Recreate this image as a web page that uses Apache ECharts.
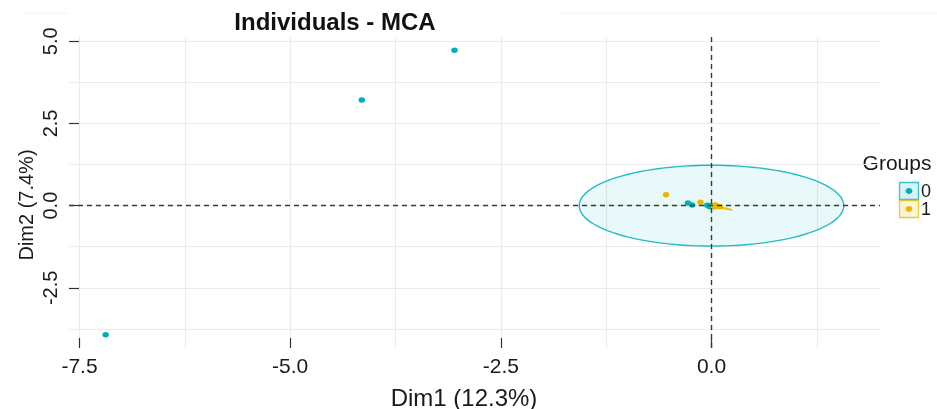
<!DOCTYPE html>
<html>
<head>
<meta charset="utf-8">
<script src="https://cdn.jsdelivr.net/npm/echarts@6/dist/echarts.min.js"></script>
<style>
  html, body { margin: 0; padding: 0; background: #ffffff; }
  #chart { width: 937px; height: 409px; }
</style>
</head>
<body>
<div id="chart"></div>
<script>
// Individuals on the first two MCA dimensions, coloured by group.
const groupNames = ['0', '1'];
const groupColors = ['#00AFBB', '#E7B800'];

const group0Dim1 = [-7.19, -4.15, -3.05, -0.28, -0.23, -0.05, -0.02, 0.00];
const group0Dim2 = [-3.93, 3.21, 4.73, 0.08, 0.02, 0.01, -0.03, 0.00];
const group1Dim1 = [-0.54, -0.13, 0.03, 0.05, 0.07, 0.10, 0.04];
const group1Dim2 = [0.33, 0.10, -0.04, 0.01, -0.02, -0.03, 0.02];

// Concentration ellipses: [centre dim1, centre dim2, semi-axis 1, semi-axis 2, angle (rad)]
const ellipse0 = [0.0, 0.0, 1.57, 1.23, 0.0];
const ellipse1 = [0.12, -0.06, 0.14, 0.012, -0.52];

const xTicks = [-7.5, -5.0, -2.5, 0.0];
const xMinorTicks = [-6.25, -3.75, -1.25, 1.25];
const yTicks = [-2.5, 0.0, 2.5, 5.0];
const yMinorTicks = [-3.75, -1.25, 1.25, 3.75];
const xLimits = [-7.625, 2.0];
const yLimits = [-4.33, 5.13];

const FONT = '"Liberation Sans", Arial, Helvetica, sans-serif';
const chart = echarts.init(document.getElementById('chart'), null, { renderer: 'canvas' });

function zip(a, b) { return a.map((v, i) => [v, b[i]]); }

function ellipseSeries(params, color) {
  return {
    type: 'custom',
    coordinateSystem: 'cartesian2d',
    silent: true,
    z: 1,
    data: [params],
    encode: { x: 0, y: 1 },
    renderItem: function (p, api) {
      const cx = api.value(0), cy = api.value(1);
      const a = api.value(2), b = api.value(3), ang = api.value(4);
      const pts = [];
      const n = 120;
      for (let k = 0; k < n; k++) {
        const t = 2 * Math.PI * k / n;
        const ex = a * Math.cos(t), ey = b * Math.sin(t);
        pts.push(api.coord([
          cx + ex * Math.cos(ang) - ey * Math.sin(ang),
          cy + ex * Math.sin(ang) + ey * Math.cos(ang)
        ]));
      }
      return {
        type: 'polygon',
        shape: { points: pts },
        style: { fill: echarts.color.modifyAlpha(color, 0.1), stroke: color, lineWidth: 1.4, opacity: 0.85 }
      };
    }
  };
}

const gridLine = { show: true, lineStyle: { color: '#ebebeb', width: 1.1 } };
const tickStyle = { color: '#333333', width: 1.2 };
const labelStyle = { color: '#1a1a1a', fontFamily: FONT };
const hiddenLine = { show: false, onZero: false };

const legendGraphics = [{
  type: 'text', x: 897, y: 164,
  style: { text: 'Groups', font: '21px ' + FONT, fill: '#1a1a1a', align: 'center', verticalAlign: 'middle' }
}];
groupNames.forEach((name, i) => {
  const top = 182 + 18 * i;
  legendGraphics.push(
    { type: 'rect', shape: { x: 899.5, y: top + 0.5, width: 19, height: 17 },
      style: { fill: echarts.color.modifyAlpha(groupColors[i], 0.15), stroke: echarts.color.modifyAlpha(groupColors[i], 0.75), lineWidth: 1.3 } },
    { type: 'ellipse', shape: { cx: 909, cy: top + 9, rx: 3.4, ry: 2.9 }, style: { fill: groupColors[i] } },
    { type: 'text', x: 921, y: top + 10,
      style: { text: name, font: '18px ' + FONT, fill: '#1a1a1a', align: 'left', verticalAlign: 'middle' } }
  );
});

const option = {
  backgroundColor: '#ffffff',
  animation: false,
  grid: { left: 69, right: 57, top: 37, bottom: 61, containLabel: false, outerBoundsMode: 'none' },
  xAxis: [{
    type: 'value', min: xLimits[0], max: xLimits[1],
    axisLine: hiddenLine,
    axisTick: { show: true, inside: true, length: 10, customValues: xTicks, lineStyle: tickStyle },
    axisLabel: Object.assign({ customValues: xTicks, margin: 9, fontSize: 21, formatter: v => v.toFixed(1) }, labelStyle),
    splitLine: gridLine
  }, {
    type: 'value', min: xLimits[0], max: xLimits[1], position: 'bottom',
    axisLine: hiddenLine,
    axisTick: { show: false, customValues: xMinorTicks },
    axisLabel: { show: false },
    splitLine: gridLine
  }],
  yAxis: [{
    type: 'value', min: yLimits[0], max: yLimits[1],
    axisLine: hiddenLine,
    axisTick: { show: true, inside: true, length: 10, customValues: yTicks, lineStyle: tickStyle },
    axisLabel: Object.assign({ customValues: yTicks, margin: 8, fontSize: 20, rotate: 90, formatter: v => v.toFixed(1) }, labelStyle),
    splitLine: gridLine
  }, {
    type: 'value', min: yLimits[0], max: yLimits[1], position: 'left',
    axisLine: hiddenLine,
    axisTick: { show: false, customValues: yMinorTicks },
    axisLabel: { show: false },
    splitLine: gridLine
  }],
  series: [
    ellipseSeries(ellipse0, groupColors[0]),
    ellipseSeries(ellipse1, groupColors[1]),
    {
      name: groupNames[0], type: 'scatter', z: 3,
      data: zip(group0Dim1, group0Dim2),
      symbol: 'circle', symbolSize: [6.5, 5.5],
      itemStyle: { color: groupColors[0], opacity: 1 },
      markLine: {
        silent: true, symbol: 'none', animation: false,
        label: { show: false },
        lineStyle: { color: '#3a3a3a', width: 1.4, type: [5, 4] },
        data: [{ xAxis: 0 }, { yAxis: 0 }]
      }
    },
    {
      name: groupNames[1], type: 'scatter', z: 4,
      data: zip(group1Dim1, group1Dim2),
      symbol: 'circle', symbolSize: [6.5, 5.5],
      itemStyle: { color: groupColors[1], opacity: 1 }
    }
  ],
  graphic: [
    { type: 'line', shape: { x1: 23, y1: 13, x2: 68, y2: 13 }, style: { stroke: '#f2f2f2', lineWidth: 1 } },
    { type: 'line', shape: { x1: 560, y1: 13, x2: 937, y2: 13 }, style: { stroke: '#f2f2f2', lineWidth: 1 } },
    { type: 'text', x: 335, y: 23,
      style: { text: 'Individuals - MCA', font: 'bold 24px ' + FONT, fill: '#111111', align: 'center', verticalAlign: 'middle' } },
    { type: 'text', x: 464, y: 399,
      style: { text: 'Dim1 (12.3%)', font: '24px ' + FONT, fill: '#1a1a1a', align: 'center', verticalAlign: 'middle' } },
    { type: 'text', x: 27, y: 205, rotation: Math.PI / 2,
      style: { text: 'Dim2 (7.4%)', font: '20px ' + FONT, fill: '#1a1a1a', align: 'center', verticalAlign: 'middle' } }
  ].concat(legendGraphics)
};

chart.setOption(option);
</script>
</body>
</html>
